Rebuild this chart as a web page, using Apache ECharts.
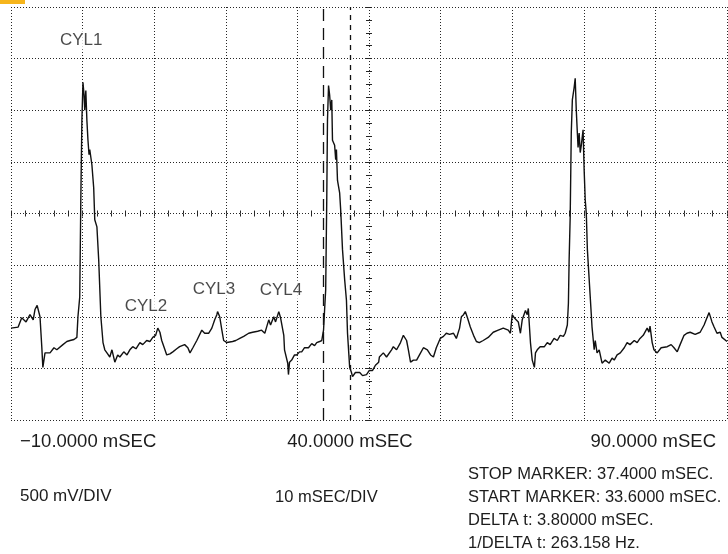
<!DOCTYPE html>
<html><head><meta charset="utf-8">
<script src="https://cdn.jsdelivr.net/npm/echarts@6/dist/echarts.min.js"></script>
<style>html,body{margin:0;padding:0;background:#fff}#c{width:728px;height:554px}</style>
</head><body><div id="c"></div>
<script>
// ---- data ----
const timeMs = [
  -10, -9.0, -8.5, -7.9, -7.35, -6.9, -6.65, -6.35, -5.95, -5.7,
  -5.55, -5.25, -4.55, -4.0, -3.6, -2.75, -2.2, -1.75, -1.2, -0.8,
  -0.65, -0.4, -0.25, -0.1, 0.05, 0.2, 0.3, 0.45, 0.6, 0.75,
  0.9, 1.0, 1.3, 1.55, 1.7, 2.0, 2.25, 2.55, 2.85, 3.1,
  3.4, 3.8, 4.1, 4.5, 4.9, 5.2, 5.75, 6.2, 6.6, 7.0,
  7.45, 8.0, 8.4, 8.95, 9.4, 9.8, 10.2, 10.5, 10.8, 11.05,
  11.5, 11.75, 12.2, 12.6, 13.15, 13.55, 14.25, 14.7, 15.0, 15.4,
  15.95, 16.65, 17.05, 17.6, 18.05, 18.45, 18.75, 18.85, 19.15, 19.45,
  19.7, 20.15, 20.4, 20.95, 21.4, 21.95, 22.5, 23.2, 23.75, 24.45,
  25.0, 25.45, 25.7, 26.0, 26.25, 26.7, 26.95, 27.4, 27.65, 27.8,
  28.1, 28.2, 28.65, 28.75, 28.9, 29.2, 29.6, 29.9, 30.3, 30.6,
  31.0, 31.55, 32.0, 32.4, 32.7, 33.1, 33.4, 33.65, 33.8, 33.95,
  34.1, 34.2, 34.35, 34.5, 34.65, 34.8, 34.9, 35.2, 35.35, 35.45,
  35.6, 35.9, 36.05, 36.3, 36.6, 36.85, 37.0, 37.3, 37.55, 37.7,
  38.1, 38.7, 39.1, 39.65, 40.05, 40.5, 40.9, 41.35, 41.45, 42.0,
  42.45, 42.7, 43.15, 43.4, 43.85, 44.4, 44.8, 45.25, 45.5, 45.8,
  46.2, 46.65, 47.05, 47.6, 48.15, 48.6, 49.0, 49.4, 49.95, 50.4,
  50.8, 51.25, 51.8, 52.2, 52.65, 52.9, 53.2, 53.45, 53.75, 54.15,
  54.6, 55.0, 55.4, 55.95, 56.65, 57.35, 58.05, 58.75, 59.45, 59.75,
  60.0, 60.3, 60.55, 60.85, 61.15, 61.4, 61.85, 62.1, 62.25, 62.55,
  62.8, 63.1, 63.25, 63.5, 63.9, 64.5, 64.9, 65.3, 65.85, 66.3,
  66.7, 67.15, 67.4, 67.7, 67.85, 67.95, 68.1, 68.25, 68.4, 68.65,
  68.8, 68.95, 69.1, 69.2, 69.35, 69.5, 69.65, 69.9, 70.05, 70.2,
  70.35, 70.5, 70.9, 71.15, 71.45, 71.6, 71.85, 72.15, 72.55, 73.0,
  73.55, 73.95, 74.25, 74.65, 75.1, 75.65, 76.05, 76.45, 77.05, 77.45,
  77.85, 78.3, 78.85, 79.1, 79.25, 79.55, 79.8, 80.25, 80.8, 81.65,
  82.2, 82.6, 83.05, 83.45, 84.0, 84.4, 84.85, 85.55, 86.25, 86.8,
  87.2, 87.5, 87.9, 88.2, 88.6, 89.05, 89.3, 90.0
];
const voltageMv = [
  -1110, -1100, -1010, -1050, -980, -1030, -930, -890, -1000, -1290,
  -1490, -1350, -1350, -1300, -1320, -1270, -1240, -1230, -1220, -1200,
  -1000, -810, 130, 900, 1270, 1150, 1000, 1190, 900, 710,
  570, 620, 470, 250, -60, -130, -450, -1000, -1250, -1320,
  -1350, -1390, -1320, -1440, -1370, -1390, -1340, -1370, -1320, -1290,
  -1310, -1250, -1270, -1230, -1240, -1200, -1180, -1110, -1150, -1230,
  -1320, -1370, -1360, -1340, -1310, -1290, -1270, -1300, -1350, -1300,
  -1230, -1130, -1160, -1160, -1110, -1030, -980, -950, -1000, -1130,
  -1230, -1250, -1250, -1240, -1230, -1210, -1190, -1160, -1150, -1140,
  -1130, -1160, -1100, -1030, -1080, -1000, -1050, -950, -1010, -1000,
  -1180, -1320, -1450, -1560, -1440, -1420, -1370, -1370, -1340, -1340,
  -1300, -1300, -1260, -1280, -1250, -1240, -1230, -1130, -930, -740,
  130, 900, 1240, 1150, 1000, 1100, 710, 660, 520, 620,
  320, 200, 30, -350, -640, -840, -1160, -1490, -1540, -1580,
  -1540, -1540, -1570, -1560, -1520, -1520, -1470, -1440, -1390, -1350,
  -1390, -1390, -1320, -1290, -1320, -1250, -1180, -1230, -1320, -1440,
  -1420, -1420, -1370, -1300, -1320, -1370, -1390, -1300, -1210, -1190,
  -1160, -1170, -1160, -1210, -1110, -1000, -980, -950, -1010, -1100,
  -1180, -1240, -1250, -1230, -1200, -1150, -1130, -1110, -1130, -1160,
  -980, -1010, -1030, -1050, -1160, -1030, -940, -980, -920, -1250,
  -1420, -1490, -1350, -1320, -1290, -1290, -1250, -1270, -1210, -1230,
  -1180, -1190, -1160, -1080, -870, -450, -30, 780, 1100, 1220,
  1310, 1000, 780, 640, 780, 590, 660, 810, 420, 130,
  0, -350, -810, -1100, -1320, -1230, -1350, -1320, -1450, -1420,
  -1450, -1400, -1420, -1370, -1350, -1300, -1250, -1270, -1230, -1250,
  -1210, -1180, -1110, -1150, -1090, -1250, -1320, -1350, -1300, -1290,
  -1270, -1300, -1340, -1270, -1180, -1160, -1150, -1170, -1150, -1080,
  -1010, -960, -1050, -1100, -1160, -1150, -1200, -1240
];
const cylNames = ['CYL1', 'CYL2', 'CYL3', 'CYL4'];
const cylTimeMs = [-0.2, 8.85, 18.35, 27.7];
const cylVoltMv = [1680, -900, -730, -740];
const startMarkerMs = 33.6;
const stopMarkerMs = 37.4;
const xTickValues = [-10, 40, 90];
const xTickLabels = ['\u221210.0000 mSEC', '40.0000 mSEC', '90.0000 mSEC'];
const scaleTexts = ['500 mV/DIV', '10 mSEC/DIV'];
const markerTexts = [
  'STOP MARKER: 37.4000 mSEC.',
  'START MARKER: 33.6000 mSEC.',
  'DELTA t: 3.80000 mSEC.',
  '1/DELTA t: 263.158 Hz.'
];
const xMin = -10, xMax = 90, xStep = 10;
const yMin = -2000, yMax = 2000, yStep = 500;

// ---- chart ----
const chart = echarts.init(document.getElementById('c'), null, {renderer: 'canvas'});
const FONT = '"Liberation Sans", Arial, sans-serif';
const TXT = '#1c1c1c';
const gridColor = '#262626';
const dotted = {color: gridColor, width: 1, type: [1, 2]};
const gridBox = {left: 11, right: 1, top: 7, bottom: 134};

const tracePts = timeMs.map((t, i) => [t, voltageMv[i]]);
const cylPts = cylNames.map((n, i) => ({name: n, value: [cylTimeMs[i], cylVoltMv[i]]}));
const richKeys = ['a', 'b', 'c'];

function crossAxis(pos, extra) {
  return Object.assign({
    type: 'value', position: pos,
    axisLine: {show: false, onZero: true},
    axisTick: {show: true, length: 3, lineStyle: {color: gridColor, width: 1}},
    minorTick: {show: true, length: 3, lineStyle: {color: gridColor, width: 1}},
    axisLabel: {show: false}, splitLine: {show: false}
  }, extra);
}

const option = {
  animation: false,
  backgroundColor: '#fff',
  grid: [Object.assign({}, gridBox), Object.assign({}, gridBox)],
  xAxis: [
    {
      gridIndex: 0, type: 'value', min: xMin, max: xMax, interval: xStep,
      axisLine: {show: false, onZero: false}, axisTick: {show: false},
      splitLine: {show: true, lineStyle: dotted},
      axisLabel: {
        show: true, margin: 12, color: TXT, fontSize: 18, fontFamily: FONT,
        alignMinLabel: 'left', alignMaxLabel: 'right',
        formatter: v => {
          const i = xTickValues.indexOf(v);
          return i < 0 ? '' : '{' + richKeys[i] + '|' + xTickLabels[i] + '}';
        },
        rich: {
          a: {fontSize: 18.5, fontFamily: FONT, color: TXT, padding: [0, 0, 0, 9]},
          b: {fontSize: 18.5, fontFamily: FONT, color: TXT, padding: [0, 38, 0, 0]},
          c: {fontSize: 18.5, fontFamily: FONT, color: TXT, padding: [0, 11, 0, 0]}
        }
      }
    },
    crossAxis('bottom', {gridIndex: 0, min: xMin, max: xMax, interval: xStep,
      axisLine: {show: false, onZero: true, onZeroAxisIndex: 0},
      minorTick: {show: true, splitNumber: 5, length: 3, lineStyle: {color: gridColor}}}),
    crossAxis('top', {gridIndex: 0, min: xMin, max: xMax, interval: xStep,
      axisLine: {show: false, onZero: true, onZeroAxisIndex: 0},
      minorTick: {show: true, splitNumber: 5, length: 3, lineStyle: {color: gridColor}}}),
    {gridIndex: 1, type: 'value', min: -50, max: 50, show: false,
      axisLine: {onZero: false}}
  ],
  yAxis: [
    {
      gridIndex: 0, type: 'value', min: yMin, max: yMax, interval: yStep,
      axisLine: {show: false, onZero: false}, axisTick: {show: false},
      axisLabel: {show: false},
      splitLine: {show: true, lineStyle: dotted}
    },
    crossAxis('left', {gridIndex: 1, min: yMin, max: yMax, interval: yStep,
      axisLine: {show: false, onZero: true, onZeroAxisIndex: 3},
      minorTick: {show: true, splitNumber: 4, length: 3, lineStyle: {color: gridColor}}}),
    crossAxis('right', {gridIndex: 1, min: yMin, max: yMax, interval: yStep,
      axisLine: {show: false, onZero: true, onZeroAxisIndex: 3},
      minorTick: {show: true, splitNumber: 4, length: 3, lineStyle: {color: gridColor}}})
  ],
  series: [
    {
      type: 'line', xAxisIndex: 0, yAxisIndex: 0, data: tracePts,
      showSymbol: false, symbol: 'none', silent: true,
      lineStyle: {color: '#111', width: 1.4},
      markLine: {
        silent: true, symbol: 'none', label: {show: false},
        data: [
          {xAxis: startMarkerMs, lineStyle: {color: '#111', width: 1.3, type: [12, 7]}},
          {xAxis: stopMarkerMs, lineStyle: {color: '#111', width: 1.3, type: [5, 5]}}
        ]
      },
      z: 3
    },
    {
      type: 'scatter', xAxisIndex: 0, yAxisIndex: 0, data: cylPts,
      symbolSize: 0, silent: true, z: 4,
      label: {
        show: true, position: 'inside', formatter: '{b}',
        fontSize: 17, fontFamily: FONT, color: TXT,
        backgroundColor: '#fff', padding: [1, 4]
      }
    }
  ],
  graphic: [
    {type: 'rect', left: 0, top: 0, shape: {width: 25, height: 4}, style: {fill: '#f6b51c'}, z: 10},
    {type: 'text', x: 20, y: 496, style: {text: scaleTexts[0], fontSize: 17, fontFamily: FONT, fill: TXT, verticalAlign: 'middle'}},
    {type: 'text', x: 275, y: 497, style: {text: scaleTexts[1], fontSize: 16.5, fontFamily: FONT, fill: TXT, verticalAlign: 'middle'}}
  ].concat(markerTexts.map((t, i) => ({
    type: 'text', x: 468, y: 474 + i * 23,
    style: {text: t, fontSize: 16.5, fontFamily: FONT, fill: TXT, verticalAlign: 'middle'}
  })))
};
chart.setOption(option);
</script></body></html>
